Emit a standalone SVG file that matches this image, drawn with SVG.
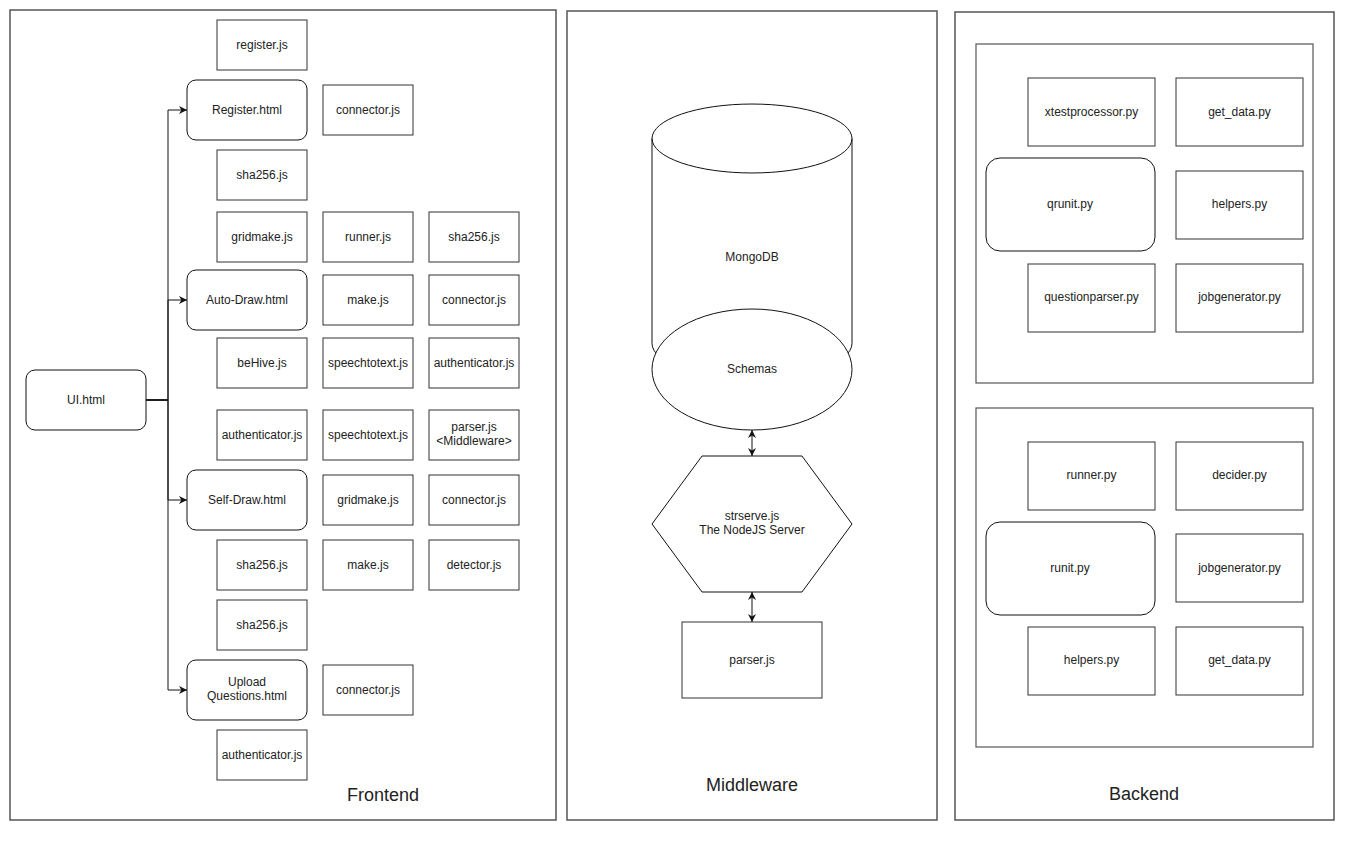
<svg xmlns="http://www.w3.org/2000/svg" width="1366" height="848" viewBox="0 0 1366 848">
<style>
.panel{fill:#fff;stroke:#555;stroke-width:1.5}
.box{fill:#fff;stroke:#333;stroke-width:1}
.rbox{fill:#fff;stroke:#111;stroke-width:1}
.shape{fill:#fff;stroke:#111;stroke-width:1}
.t{font-family:"Liberation Sans",Arial,sans-serif;font-size:12px;fill:#222;text-anchor:middle}
.big{font-family:"Liberation Sans",Arial,sans-serif;font-size:18px;fill:#222;text-anchor:middle}
.edge{fill:none;stroke:#111;stroke-width:1}
</style>
<defs>
<marker id="arr" viewBox="0 0 10 10" refX="10" refY="5" markerWidth="8" markerHeight="8" markerUnits="userSpaceOnUse" orient="auto-start-reverse">
<path d="M0,0 L10,5 L0,10 L3,5 z" fill="#111"/>
</marker>
</defs>
<rect width="1366" height="848" fill="#fff"/>

<g id="panels">
<rect class="panel" x="10" y="10" width="546" height="810"/>
<rect class="panel" x="567" y="11" width="370" height="809"/>
<rect class="panel" x="955" y="12" width="379" height="808"/>
<rect class="panel" x="976" y="44" width="337" height="339" style="stroke-width:1.2"/>
<rect class="panel" x="976" y="408" width="337" height="339" style="stroke-width:1.2"/>
<text class="big" x="383" y="801">Frontend</text>
<text class="big" x="752" y="791">Middleware</text>
<text class="big" x="1144" y="800">Backend</text>
</g>

<g id="connectors">
<path class="edge" d="M146,400 H168 V110 H187" marker-end="url(#arr)"/>
<path class="edge" d="M146,400 H168 V300 H187" marker-end="url(#arr)"/>
<path class="edge" d="M146,400 H168 V500 H187" marker-end="url(#arr)"/>
<path class="edge" d="M146,400 H168 V690 H187" marker-end="url(#arr)"/>
<path class="edge" d="M752,430 V456" marker-start="url(#arr)" marker-end="url(#arr)"/>
<path class="edge" d="M752,592 V622" marker-start="url(#arr)" marker-end="url(#arr)"/>
</g>

<!-- Frontend -->
<g id="ui"><rect class="rbox" x="26" y="370" width="120" height="60" rx="9"/><text class="t" x="86" y="404">UI.html</text></g>

<g id="register-js"><rect class="box" x="217" y="20" width="90" height="50"/><text class="t" x="262" y="49">register.js</text></g>
<g id="register-html"><rect class="rbox" x="187" y="80" width="120" height="60" rx="9"/><text class="t" x="247" y="114">Register.html</text></g>
<g id="reg-connector"><rect class="box" x="323" y="85" width="90" height="50"/><text class="t" x="368" y="114">connector.js</text></g>
<g id="reg-sha"><rect class="box" x="217" y="150" width="90" height="50"/><text class="t" x="262" y="179">sha256.js</text></g>

<g id="ad-gridmake"><rect class="box" x="217" y="212" width="90" height="50"/><text class="t" x="262" y="241">gridmake.js</text></g>
<g id="ad-runner"><rect class="box" x="323" y="212" width="90" height="50"/><text class="t" x="368" y="241">runner.js</text></g>
<g id="ad-sha"><rect class="box" x="429" y="212" width="90" height="50"/><text class="t" x="474" y="241">sha256.js</text></g>
<g id="autodraw-html"><rect class="rbox" x="187" y="270" width="120" height="60" rx="9"/><text class="t" x="247" y="304">Auto-Draw.html</text></g>
<g id="ad-make"><rect class="box" x="323" y="275" width="90" height="50"/><text class="t" x="368" y="304">make.js</text></g>
<g id="ad-connector"><rect class="box" x="429" y="275" width="90" height="50"/><text class="t" x="474" y="304">connector.js</text></g>
<g id="ad-behive"><rect class="box" x="217" y="338" width="90" height="50"/><text class="t" x="262" y="367">beHive.js</text></g>
<g id="ad-speech"><rect class="box" x="323" y="338" width="90" height="50"/><text class="t" x="368" y="367">speechtotext.js</text></g>
<g id="ad-auth"><rect class="box" x="429" y="338" width="90" height="50"/><text class="t" x="474" y="367">authenticator.js</text></g>

<g id="sd-auth"><rect class="box" x="217" y="410" width="90" height="50"/><text class="t" x="262" y="439">authenticator.js</text></g>
<g id="sd-speech"><rect class="box" x="323" y="410" width="90" height="50"/><text class="t" x="368" y="439">speechtotext.js</text></g>
<g id="sd-parser"><rect class="box" x="429" y="410" width="90" height="50"/><text class="t" x="474" y="431">parser.js</text><text class="t" x="474" y="445">&lt;Middleware&gt;</text></g>
<g id="selfdraw-html"><rect class="rbox" x="187" y="470" width="120" height="60" rx="9"/><text class="t" x="247" y="504">Self-Draw.html</text></g>
<g id="sd-gridmake"><rect class="box" x="323" y="475" width="90" height="50"/><text class="t" x="368" y="504">gridmake.js</text></g>
<g id="sd-connector"><rect class="box" x="429" y="475" width="90" height="50"/><text class="t" x="474" y="504">connector.js</text></g>
<g id="sd-sha"><rect class="box" x="217" y="540" width="90" height="50"/><text class="t" x="262" y="569">sha256.js</text></g>
<g id="sd-make"><rect class="box" x="323" y="540" width="90" height="50"/><text class="t" x="368" y="569">make.js</text></g>
<g id="sd-detector"><rect class="box" x="429" y="540" width="90" height="50"/><text class="t" x="474" y="569">detector.js</text></g>

<g id="uq-sha"><rect class="box" x="217" y="600" width="90" height="50"/><text class="t" x="262" y="629">sha256.js</text></g>
<g id="upload-html"><rect class="rbox" x="187" y="660" width="120" height="60" rx="9"/><text class="t" x="247" y="686">Upload</text><text class="t" x="247" y="700">Questions.html</text></g>
<g id="uq-connector"><rect class="box" x="323" y="665" width="90" height="50"/><text class="t" x="368" y="694">connector.js</text></g>
<g id="uq-auth"><rect class="box" x="217" y="730" width="90" height="50"/><text class="t" x="262" y="759">authenticator.js</text></g>

<!-- Middleware -->
<g id="mongodb">
<path class="shape" d="M652,138.5 A100,34.5 0 0 1 852,138.5 V343.5 A100,34.5 0 0 1 652,343.5 Z"/>
<path class="shape" style="fill:none" d="M652,138.5 A100,34.5 0 0 0 852,138.5"/>
<text class="t" x="752" y="261">MongoDB</text>
</g>
<g id="schemas"><ellipse class="shape" cx="752" cy="369.5" rx="100" ry="60.5"/><text class="t" x="752" y="373">Schemas</text></g>
<g id="strserve"><polygon class="shape" points="702,456 802,456 852,524 802,592 702,592 652,524"/><text class="t" x="752" y="520">strserve.js</text><text class="t" x="752" y="534">The NodeJS Server</text></g>
<g id="parser"><rect class="box" x="682" y="622" width="140" height="76"/><text class="t" x="752" y="664">parser.js</text></g>

<!-- Backend -->
<g id="b1-xtest"><rect class="box" x="1028" y="78" width="127" height="68"/><text class="t" x="1091.5" y="116">xtestprocessor.py</text></g>
<g id="b1-getdata"><rect class="box" x="1176" y="78" width="127" height="68"/><text class="t" x="1239.5" y="116">get_data.py</text></g>
<g id="b1-qrunit"><rect class="rbox" x="986" y="158" width="169" height="93" rx="14"/><text class="t" x="1070" y="208">qrunit.py</text></g>
<g id="b1-helpers"><rect class="box" x="1176" y="171" width="127" height="68"/><text class="t" x="1239.5" y="208">helpers.py</text></g>
<g id="b1-qparser"><rect class="box" x="1028" y="264" width="127" height="68"/><text class="t" x="1091.5" y="301">questionparser.py</text></g>
<g id="b1-jobgen"><rect class="box" x="1176" y="264" width="127" height="68"/><text class="t" x="1239.5" y="301">jobgenerator.py</text></g>

<g id="b2-runner"><rect class="box" x="1028" y="442" width="127" height="68"/><text class="t" x="1091.5" y="479">runner.py</text></g>
<g id="b2-decider"><rect class="box" x="1176" y="442" width="127" height="68"/><text class="t" x="1239.5" y="479">decider.py</text></g>
<g id="b2-runit"><rect class="rbox" x="986" y="522" width="169" height="93" rx="14"/><text class="t" x="1070" y="572">runit.py</text></g>
<g id="b2-jobgen"><rect class="box" x="1176" y="534" width="127" height="68"/><text class="t" x="1239.5" y="572">jobgenerator.py</text></g>
<g id="b2-helpers"><rect class="box" x="1028" y="627" width="127" height="68"/><text class="t" x="1091.5" y="664">helpers.py</text></g>
<g id="b2-getdata"><rect class="box" x="1176" y="627" width="127" height="68"/><text class="t" x="1239.5" y="664">get_data.py</text></g>
</svg>
